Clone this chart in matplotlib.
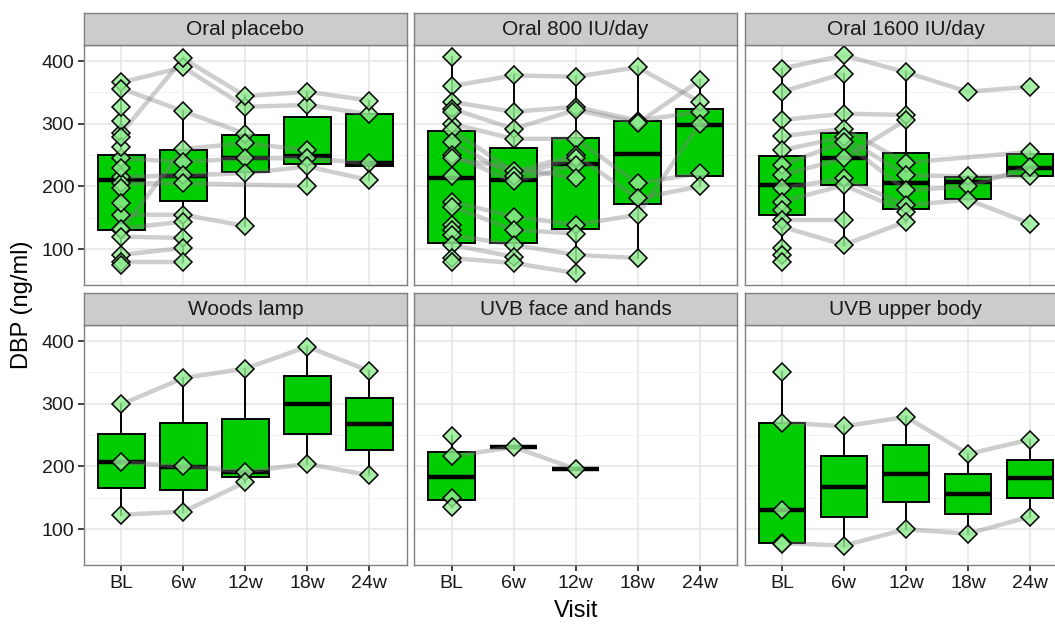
import numpy as np
import matplotlib
matplotlib.use('Agg')
import matplotlib.pyplot as plt

plt.rcParams['font.family'] = ['Liberation Sans', 'DejaVu Sans']

visits = ['BL', '6w', '12w', '18w', '24w']
nan = np.nan

# subject trajectories per treatment (one row per subject, one column per visit)
oral_placebo = [
    [366, 390, 327, 330, 315],
    [285, 404, 344, 351, 337],
    [356, 320, 284, nan, nan],
    [130, 260, 269, 258, nan],
    [245, 239, 245, 245, 237],
    [215, 218, 221, 232, 210],
    [205, 205, nan, 201, nan],
    [155, 155, 137, nan, nan],
    [133, 144, nan, nan, nan],
    [120, 118, nan, nan, nan],
    [91, 102, nan, nan, nan],
    [80, 80, nan, nan, nan],
    [305, nan, nan, nan, nan],
    [263, nan, nan, nan, nan],
    [229, nan, nan, nan, nan],
    [197, nan, nan, nan, nan],
    [173, nan, nan, nan, nan],
    [75, nan, nan, nan, nan],
    [279, nan, nan, nan, nan],
    [326, nan, nan, nan, nan],
]
oral_800 = [
    [360, 377, 375, 390, 335],
    [335, 319, 327, 305, 319],
    [406, nan, nan, nan, nan],
    [324, 292, 322, 301, 369],
    [300, 276, 276, 205, 221],
    [290, 224, 250, 181, 200],
    [271, 216, 245, nan, nan],
    [250, 208, 234, nan, nan],
    [245, nan, 213, nan, nan],
    [216, nan, nan, nan, nan],
    [176, 152, 139, 155, 300],
    [168, 131, 125, nan, nan],
    [139, nan, nan, nan, nan],
    [131, nan, nan, nan, nan],
    [123, 107, 91, 86, nan],
    [107, 88, nan, nan, nan],
    [86, 78, 62, nan, nan],
    [80, nan, nan, nan, nan],
    [319, nan, nan, nan, nan],
]
oral_1600 = [
    [388, 409, 382, 351, 359],
    [351, 380, nan, nan, nan],
    [306, 316, 314, nan, nan],
    [280, 292, 238, nan, 255],
    [258, 279, 218, 216, 216],
    [234, 271, 194, 200, 231],
    [218, 245, 306, nan, nan],
    [197, 213, 170, 179, 141],
    [176, 202, 160, nan, nan],
    [163, nan, nan, nan, nan],
    [147, 147, nan, nan, nan],
    [136, 107, 144, nan, nan],
    [102, nan, nan, nan, nan],
    [91, nan, nan, nan, nan],
    [80, nan, nan, nan, nan],
]
woods_lamp = [
    [299, 341, 356, 391, 352],
    [207, 200, 192, 204, 186],
    [123, 128, 175, nan, nan],
]
uvb_face = [
    [216, 231, 196, nan, nan],
    [248, nan, nan, nan, nan],
    [149, nan, nan, nan, nan],
    [136, nan, nan, nan, nan],
]
uvb_upper = [
    [270, 264, 279, 220, 243],
    [78, 74, 100, 93, 120],
    [350, nan, nan, nan, nan],
    [130, nan, nan, nan, nan],
    [77, nan, nan, nan, nan],
]

# box statistics read per visit: (whisker low, q1, median, q3, whisker high)
oral_placebo_box = [(75, 130, 211, 250, 366), (80, 177, 217, 258, 320),
                    (137, 223, 246, 282, 344), (201, 236, 249, 311, 351),
                    (210, 233, 237, 315, 337)]
oral_800_box = [(80, 110, 214, 289, 406), (78, 110, 210, 262, 377),
                (62, 133, 236, 278, 375), (86, 172, 251, 304, 390),
                (200, 216, 298, 324, 369)]
oral_1600_box = [(80, 155, 202, 249, 388), (107, 203, 245, 285, 380),
                 (144, 164, 206, 254, 382), (179, 180, 207, 215, 216),
                 (216, 217, 230, 252, 255)]
woods_lamp_box = [(123, 165, 207, 252, 299), (128, 163, 199, 270, 341),
                  (175, 184, 192, 275, 356), (204, 252, 299, 344, 391),
                  (186, 227, 268, 309, 352)]
uvb_face_box = [(136, 146, 183, 223, 248), (231, 231, 231, 231, 231),
                (196, 196, 196, 196, 196), None, None]
uvb_upper_box = [(77, 78, 130, 270, 350), (74, 120, 168, 216, 264),
                 (100, 143, 188, 234, 279), (93, 125, 156, 188, 220),
                 (120, 150, 182, 211, 243)]

panels = [
    ('Oral placebo', oral_placebo, oral_placebo_box),
    ('Oral 800 IU/day', oral_800, oral_800_box),
    ('Oral 1600 IU/day', oral_1600, oral_1600_box),
    ('Woods lamp', woods_lamp, woods_lamp_box),
    ('UVB face and hands', uvb_face, uvb_face_box),
    ('UVB upper body', uvb_upper, uvb_upper_box),
]

W, H = 1055, 624
fig = plt.figure(figsize=(W / 100, H / 100), dpi=100)

def rect(x, y, w, h):
    return [x / W, 1 - (y + h) / H, w / W, h / H]

lefts = [84, 414.3, 744.6]
tops = [45, 325]
pw, ph, sh = 322.7, 240, 32

for i, (title, subjects, boxes) in enumerate(panels):
    row, col = divmod(i, 3)
    ax = fig.add_axes(rect(lefts[col], tops[row], pw, ph))
    sax = fig.add_axes(rect(lefts[col], tops[row] - sh, pw, sh))
    sax.set_facecolor('#CCCCCC')
    sax.set_xticks([])
    sax.set_yticks([])
    for s in sax.spines.values():
        s.set_color('#7F7F7F')
        s.set_linewidth(1)
    sax.text(0.5, 0.47, title, ha='center', va='center', fontsize=15,
             color='#1A1A1A', transform=sax.transAxes)

    stats = []
    pos = []
    for j, b in enumerate(boxes):
        if b is None:
            continue
        lo, q1, med, q3, hi = b
        stats.append(dict(med=med, q1=q1, q3=q3, whislo=lo, whishi=hi, fliers=[]))
        pos.append(j)
    ax.bxp(stats, positions=pos, widths=0.75, patch_artist=True, showcaps=False,
           showfliers=False,
           boxprops=dict(facecolor='#00CD00', edgecolor='black', linewidth=1.4),
           medianprops=dict(color='black', linewidth=3.2),
           whiskerprops=dict(color='black', linewidth=1.4), zorder=2)

    x = np.arange(len(visits))
    for subj in subjects:
        v = np.array(subj, dtype=float)
        ok = ~np.isnan(v)
        ax.plot(x[ok], v[ok], color='#7F7F7F', alpha=0.38, linewidth=3.2,
                solid_capstyle='butt', zorder=3)
    for subj in subjects:
        v = np.array(subj, dtype=float)
        ok = ~np.isnan(v)
        ax.plot(x[ok], v[ok], linestyle='none', marker='D', markersize=9,
                markerfacecolor=(0.565, 0.933, 0.565, 0.8),
                markeredgecolor='black', markeredgewidth=1.1, zorder=4)

    ax.set_xlim(-0.6, 4.6)
    ax.set_ylim(43, 425.5)
    ax.set_yticks([100, 200, 300, 400])
    ax.set_yticks([50, 150, 250, 350], minor=True)
    ax.set_xticks(x)
    ax.grid(which='major', color='#E5E5E5', linewidth=1.1, zorder=0)
    ax.grid(which='minor', axis='y', color='#F2F2F2', linewidth=0.8, zorder=0)
    ax.set_axisbelow(True)
    for s in ax.spines.values():
        s.set_color('#7F7F7F')
        s.set_linewidth(1)
    ax.tick_params(which='minor', length=0)
    ax.tick_params(which='major', length=4, width=1.3, color='#333333',
                   labelsize=14, labelcolor='#1A1A1A', pad=3)
    if row == 1:
        ax.set_xticklabels(visits)
    else:
        ax.tick_params(axis='x', length=0, labelbottom=False)
    if col != 0:
        ax.tick_params(axis='y', length=0, labelleft=False)

fig.text(22 / W, 1 - 305 / H, 'DBP (ng/ml)', rotation=90, ha='center', va='center',
         fontsize=17)
fig.text(576 / W, 1 - 611 / H, 'Visit', ha='center', va='center', fontsize=17)

fig.savefig('out.png', dpi=100)
